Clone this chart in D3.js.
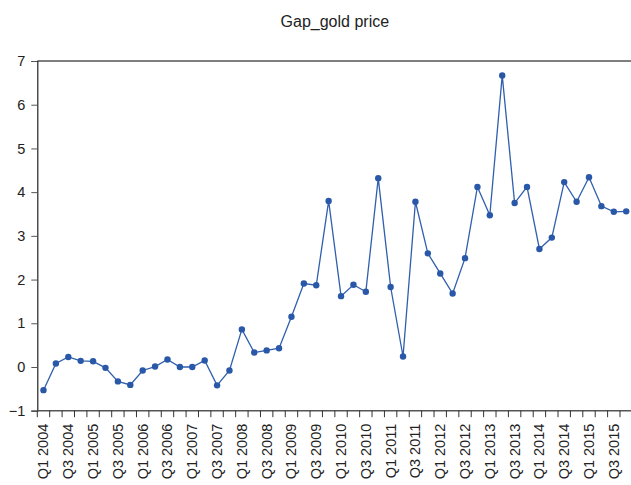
<!DOCTYPE html>
<html>
<head>
<meta charset="utf-8">
<script src="https://cdn.jsdelivr.net/npm/d3@7"></script>
<style>
  body { margin: 0; background: #fff; }
  svg { display: block; font-family: "Liberation Sans", Arial, sans-serif; }
</style>
</head>
<body>
<div id="chart"></div>
<script>
let width = 631;
let height = 485;
let margin = { top: 61, right: -1.4, bottom: 74.3, left: 37.3 };

// quarters Q1 2004 .. Q4 2015
const years = d3.range(2004, 2016);
const quarters = [];
years.forEach((y) => {
  ["Q1", "Q2", "Q3", "Q4"].forEach((q) => quarters.push(q + " " + y));
});

const gapValues = [
  -0.53, 0.08, 0.23, 0.14, 0.13, -0.02, -0.33, -0.41,
  -0.08, 0.01, 0.17, 0.0, 0.0, 0.15, -0.42, -0.08,
  0.86, 0.33, 0.38, 0.43, 1.15, 1.91, 1.87, 3.8,
  1.62, 1.88, 1.72, 4.32, 1.83, 0.24, 3.78, 2.6,
  2.14, 1.68, 2.49, 4.12, 3.47, 6.67, 3.75, 4.12,
  2.7, 2.96, 4.23, 3.78, 4.34, 3.68, 3.55, 3.56,
];

const yTicks = [-1, 0, 1, 2, 3, 4, 5, 6, 7];

let svg = d3
  .select("#chart")
  .append("svg")
  .attr("width", width)
  .attr("height", height);

let x = d3
  .scaleBand()
  .domain(quarters)
  .range([margin.left, width - margin.right]);

let y = d3
  .scaleLinear()
  .domain([-1, 7])
  .range([height - margin.bottom, margin.top]);

// title
svg
  .append("text")
  .attr("x", (x.range()[0] + x.range()[1]) / 2)
  .attr("y", 27)
  .attr("text-anchor", "middle")
  .attr("font-size", "16px")
  .attr("fill", "#222")
  .text("Gap_gold price");

// frame top line
svg
  .append("line")
  .attr("x1", margin.left)
  .attr("x2", width)
  .attr("y1", y(7))
  .attr("y2", y(7))
  .attr("stroke", "#555")
  .attr("stroke-width", 1.6);

// y axis
let yAxis = svg
  .append("g")
  .attr("transform", "translate(" + margin.left + ",0)")
  .call(d3.axisLeft(y).tickValues(yTicks).tickSize(6).tickPadding(6).tickFormat(d3.format("d")));
yAxis.select(".domain").attr("stroke", "#222").attr("stroke-width", 1.2);
yAxis.selectAll(".tick line").attr("stroke", "#555");
yAxis
  .selectAll(".tick text")
  .attr("font-size", "14.5px")
  .attr("fill", "#222")
  .attr("font-family", "Liberation Sans, Arial, sans-serif");

// x axis: ticks at band edges
let bottomY = y(-1);
svg
  .append("line")
  .attr("x1", margin.left)
  .attr("x2", width)
  .attr("y1", bottomY)
  .attr("y2", bottomY)
  .attr("stroke", "#555")
  .attr("stroke-width", 1.6);

svg
  .append("g")
  .selectAll("line")
  .data(quarters)
  .enter()
  .append("line")
  .attr("x1", (d) => x(d))
  .attr("x2", (d) => x(d))
  .attr("y1", bottomY)
  .attr("y2", bottomY + 6.5)
  .attr("stroke", "#333")
  .attr("stroke-width", 1);

svg
  .append("g")
  .selectAll("text")
  .data(quarters.filter((d, i) => i % 2 === 0))
  .enter()
  .append("text")
  .attr("transform", (d) => {
    let cx = x(d) + x.bandwidth() / 2;
    return "translate(" + (cx + 5) + "," + (bottomY + 13) + ")rotate(-90)";
  })
  .attr("text-anchor", "end")
  .attr("font-size", "14.5px")
  .attr("fill", "#222")
  .text((d) => d);

// series
let line = d3
  .line()
  .x((d, i) => x(quarters[i]) + x.bandwidth() / 2)
  .y((d) => y(d));

svg
  .append("path")
  .datum(gapValues)
  .attr("d", line)
  .attr("fill", "none")
  .attr("stroke", "#2f5fae")
  .attr("stroke-width", 1.3);

svg
  .append("g")
  .selectAll("circle")
  .data(gapValues)
  .enter()
  .append("circle")
  .attr("cx", (d, i) => x(quarters[i]) + x.bandwidth() / 2)
  .attr("cy", (d) => y(d))
  .attr("r", 3.2)
  .attr("fill", "#2a58a8");
</script>
</body>
</html>
